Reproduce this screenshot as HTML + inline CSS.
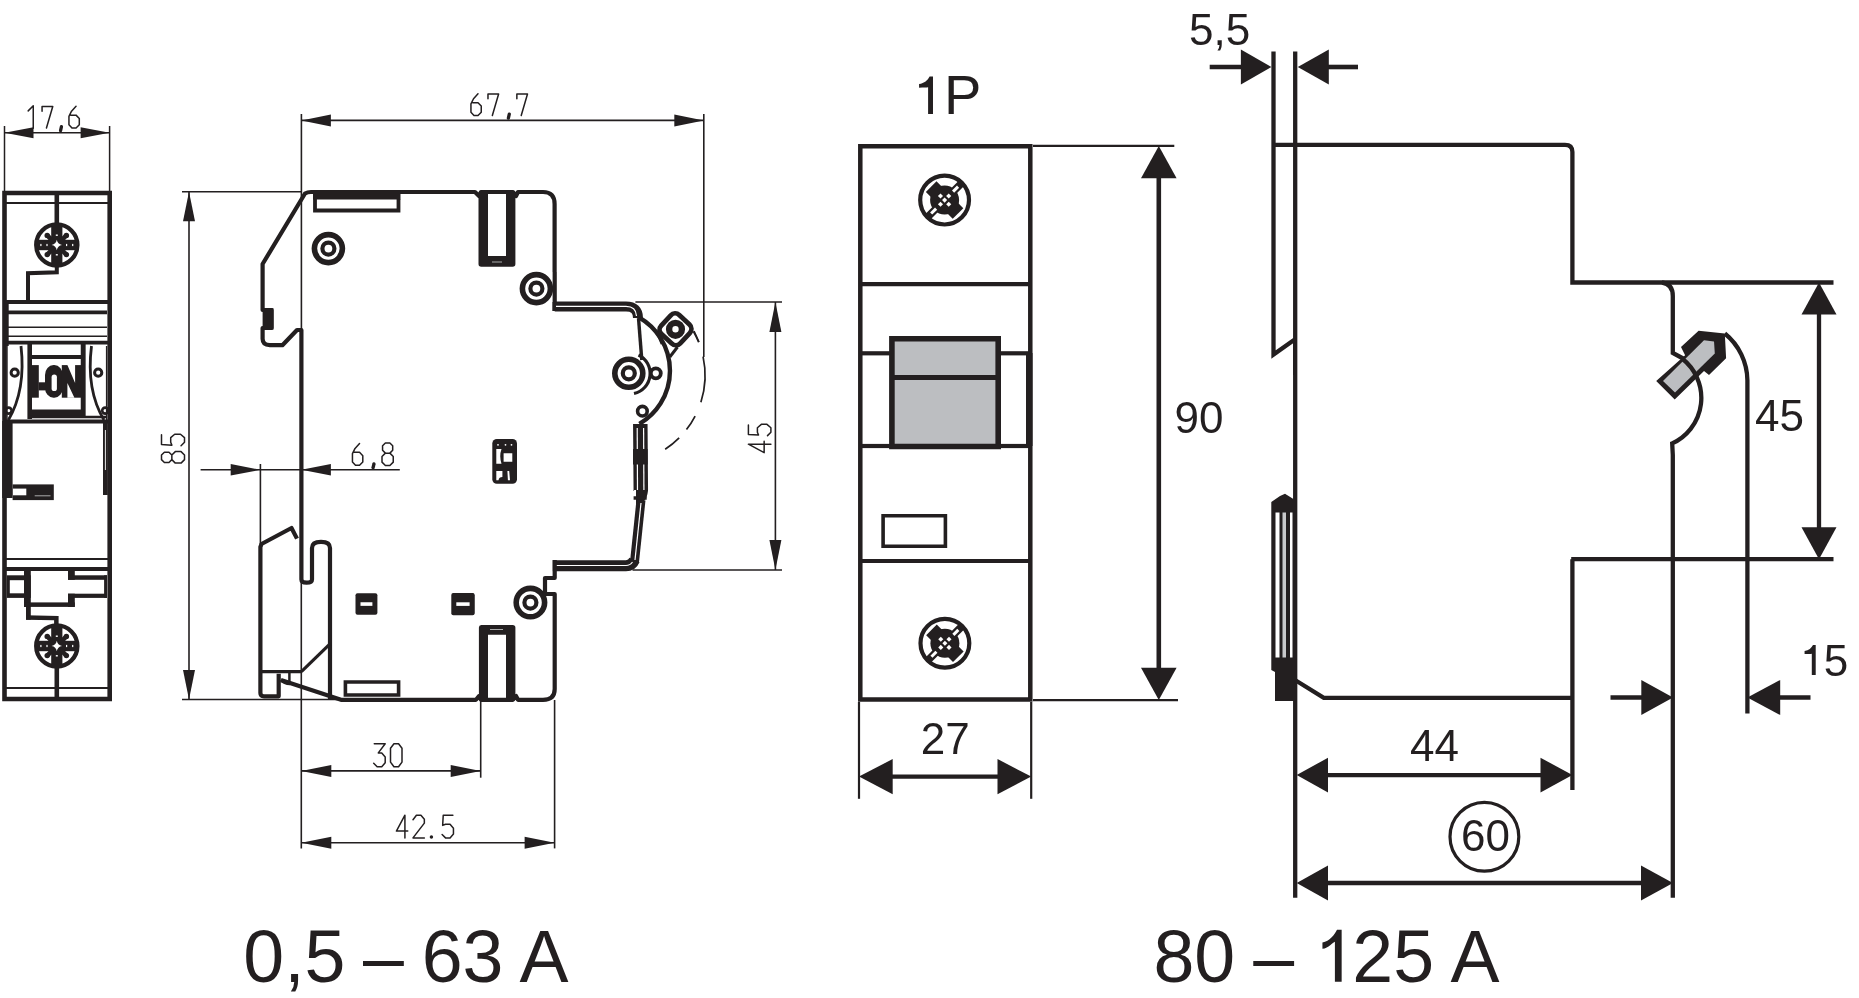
<!DOCTYPE html>
<html><head><meta charset="utf-8"><style>
html,body{margin:0;padding:0;background:#fff;width:1859px;height:998px;overflow:hidden}
svg{display:block;font-family:"Liberation Sans",sans-serif;will-change:transform}
</style></head><body>
<svg width="1859" height="998" viewBox="0 0 1859 998">
<g stroke="#231f20" fill="none">
<line x1="4.5" y1="126" x2="4.5" y2="191" stroke-width="1.5" stroke-linecap="butt"/>
<line x1="109.6" y1="126" x2="109.6" y2="191" stroke-width="1.5" stroke-linecap="butt"/>
<line x1="4.5" y1="132.8" x2="109.6" y2="132.8" stroke-width="1.5" stroke-linecap="butt"/>
<polygon points="4.50,132.80 33.50,127.30 33.50,138.30" fill="#231f20" stroke="none"/>
<polygon points="109.60,132.80 80.60,127.30 80.60,138.30" fill="#231f20" stroke="none"/>
<g transform="translate(26.5,105.8)" fill="none" stroke-width="1.5" stroke-linejoin="round" stroke-linecap="round"><path transform="translate(0.00,0) scale(1.1250)" d="M1.5,4.5 L6,0 L6,20" vector-effect="non-scaling-stroke"/><path transform="translate(15.00,0) scale(1.1250)" d="M0.5,4.8 L0.5,0.6 L10,0.6 L4.4,19.8" vector-effect="non-scaling-stroke"/><path d="M34.95,20.93 L34.05,24.75" stroke-width="3.3000000000000003" stroke-linecap="round"/><path transform="translate(42.00,0) scale(1.1250)" d="M6.7,0.4 L2.7,4.8 L0.4,9.4 L0.4,16.9 L3.1,19.8 L6.7,19.8 L9.6,16.9 L9.6,11.3 L6.7,8.3 L2,8.3" vector-effect="non-scaling-stroke"/></g>
<path d="M4.5,193 L109.7,193 L109.7,699 L4.5,699 Z" stroke-width="4.6" fill="none" stroke-linejoin="miter" stroke-linecap="butt"/>
<line x1="6" y1="203" x2="108" y2="203" stroke-width="1.8" stroke-linecap="butt"/>
<line x1="56.8" y1="193" x2="56.8" y2="224" stroke-width="4.6" stroke-linecap="butt"/>
<circle cx="56.8" cy="245" r="20.6" stroke-width="4.3" fill="none" stroke="#231f20"/>
<g transform="translate(56.8,245)" fill="#231f20" stroke="none"><rect x="-5.6" y="-21" width="11.2" height="42"/><rect x="-21" y="-5.2" width="42" height="10.4"/><circle r="9.8"/><path d="M-9.6,-9.6 L9.6,9.6 M9.6,-9.6 L-9.6,9.6" stroke="#231f20" stroke-width="4.6"/><circle cx="-9.6" cy="-9.6" r="2.7"/><circle cx="9.6" cy="-9.6" r="2.7"/><circle cx="-9.6" cy="9.6" r="2.7"/><circle cx="9.6" cy="9.6" r="2.7"/></g>
<g transform="translate(56.8,245)" fill="#fff" stroke="none"><path d="M0,-5.2 Q0.8,-0.8 5.2,0 Q0.8,0.8 0,5.2 Q-0.8,0.8 -5.2,0 Q-0.8,-0.8 0,-5.2 Z"/><rect x="-1" y="-10.5" width="2" height="1.4"/><rect x="-1" y="9.1" width="2" height="1.4"/><rect x="-10.4" y="-1.1" width="1.2" height="2.2"/><rect x="9.2" y="-1.1" width="1.2" height="2.2"/><rect x="-16.5" y="-1.1" width="1.2" height="2.2"/><rect x="15.3" y="-1.1" width="1.2" height="2.2"/></g>
<path d="M56.8,266 L56.8,272.3 L28,273.2 L28,302" stroke-width="4" fill="none" stroke-linejoin="miter" stroke-linecap="butt"/>
<line x1="5" y1="302" x2="108" y2="302" stroke-width="3.8" stroke-linecap="butt"/>
<line x1="8" y1="312.4" x2="107" y2="312.4" stroke-width="3.6" stroke-linecap="butt"/>
<line x1="8" y1="327.2" x2="107" y2="327.2" stroke-width="1.6" stroke-linecap="butt"/>
<line x1="8" y1="336.3" x2="107" y2="336.3" stroke-width="1.6" stroke-linecap="butt"/>
<line x1="6" y1="342.6" x2="108" y2="342.6" stroke-width="3.8" stroke-linecap="butt"/>
<line x1="29.7" y1="342" x2="29.7" y2="419" stroke-width="4.6" stroke-linecap="butt"/>
<line x1="83.2" y1="342" x2="83.2" y2="416" stroke-width="4.9" stroke-linecap="butt"/>
<line x1="30" y1="357" x2="82" y2="357" stroke-width="4.2" stroke-linecap="butt"/>
<line x1="30" y1="412.8" x2="85" y2="412.8" stroke-width="6.4" stroke-linecap="butt"/>
<line x1="30" y1="417" x2="107" y2="417" stroke-width="2.6" stroke-linecap="butt"/>
<line x1="6" y1="421.5" x2="108" y2="421.5" stroke-width="4" stroke-linecap="butt"/>
<rect x="32" y="365.1" width="6.799999999999997" height="32.599999999999966" fill="#231f20" stroke="none"/>
<rect x="38.6" y="382.3" width="7.799999999999997" height="8.099999999999966" fill="#231f20" stroke="none"/>
<rect x="45" y="365.1" width="17.8" height="32.6" rx="8.5" ry="10" fill="#231f20" stroke="none"/>
<rect x="51.6" y="374.6" width="5.3" height="16.4" rx="2.6" fill="#fff" stroke="none"/>
<rect x="61.8" y="365.1" width="19.200000000000003" height="32.599999999999966" fill="#231f20" stroke="none"/>
<path d="M67.4,365.1 L75.1,365.1 L75.1,383 Z M67.4,383 L67.4,397.7 L74.4,397.7 Z" fill="#fff" stroke="none"/>
<path d="M21,346 Q26,390 8.4,420" stroke-width="2.8" fill="none" stroke-linejoin="miter" stroke-linecap="butt"/>
<path d="M91.5,346 Q86,390 104,420" stroke-width="2.8" fill="none" stroke-linejoin="miter" stroke-linecap="butt"/>
<circle cx="14.7" cy="372.7" r="3.6" stroke-width="3.0" fill="none" stroke="#231f20"/>
<circle cx="98.2" cy="372.7" r="3.6" stroke-width="3.0" fill="none" stroke="#231f20"/>
<circle cx="8.6" cy="410.6" r="3.0" stroke-width="2.6" fill="none" stroke="#231f20"/>
<circle cx="105.2" cy="410.6" r="3.0" stroke-width="2.6" fill="none" stroke="#231f20"/>
<line x1="7" y1="346" x2="7" y2="420" stroke-width="1.4" stroke-linecap="butt"/>
<line x1="106.6" y1="346" x2="106.6" y2="420" stroke-width="1.4" stroke-linecap="butt"/>
<rect x="2.2" y="421" width="10.399999999999999" height="77" fill="#231f20" stroke="none"/>
<rect x="12.6" y="484.4" width="41.199999999999996" height="15.700000000000045" fill="#231f20" stroke="none"/>
<rect x="13" y="488.6" width="13.3" height="6.699999999999989" fill="#fff" stroke="none"/>
<line x1="34.7" y1="495.8" x2="50.5" y2="495.8" stroke="#aaa" stroke-width="1"/>
<rect x="103" y="421" width="4.799999999999997" height="74" fill="#231f20" stroke="none"/>
<line x1="105.4" y1="430" x2="105.4" y2="470" stroke="#fff" stroke-width="0.9"/>
<rect x="4.5" y="300" width="4.199999999999999" height="46" fill="#231f20" stroke="none"/>
<line x1="6" y1="559.1" x2="108" y2="559.1" stroke-width="2" stroke-linecap="butt"/>
<line x1="5" y1="569" x2="108" y2="569" stroke-width="4.2" stroke-linecap="butt"/>
<rect x="6.8" y="575.3" width="24.0" height="22.600000000000023" fill="#231f20" stroke="none"/>
<rect x="9.8" y="580.2" width="16.2" height="13.099999999999909" fill="#fff" stroke="none"/>
<rect x="24" y="571" width="6.800000000000001" height="35.89999999999998" fill="#231f20" stroke="none"/>
<rect x="26" y="606" width="4.800000000000001" height="13.700000000000045" fill="#231f20" stroke="none"/>
<rect x="24" y="602.4" width="50.8" height="4.5" fill="#231f20" stroke="none"/>
<rect x="68" y="571" width="6.799999999999997" height="8.799999999999955" fill="#231f20" stroke="none"/>
<rect x="68" y="593.7" width="6.799999999999997" height="13.199999999999932" fill="#231f20" stroke="none"/>
<rect x="68" y="575.3" width="39" height="4.5" fill="#231f20" stroke="none"/>
<rect x="68" y="593.7" width="39" height="4.199999999999932" fill="#231f20" stroke="none"/>
<rect x="104.1" y="575.3" width="2.9000000000000057" height="22.600000000000023" fill="#231f20" stroke="none"/>
<path d="M26,615.2 L58.6,616 L58.6,626 L54.1,626 L54.1,620.3 L26,619.7 Z" fill="#231f20" stroke="none"/>
<circle cx="56.8" cy="646" r="20.6" stroke-width="4.3" fill="none" stroke="#231f20"/>
<g transform="translate(56.8,646)" fill="#231f20" stroke="none"><rect x="-5.6" y="-21" width="11.2" height="42"/><rect x="-21" y="-5.2" width="42" height="10.4"/><circle r="9.8"/><path d="M-9.6,-9.6 L9.6,9.6 M9.6,-9.6 L-9.6,9.6" stroke="#231f20" stroke-width="4.6"/><circle cx="-9.6" cy="-9.6" r="2.7"/><circle cx="9.6" cy="-9.6" r="2.7"/><circle cx="-9.6" cy="9.6" r="2.7"/><circle cx="9.6" cy="9.6" r="2.7"/></g>
<g transform="translate(56.8,646)" fill="#fff" stroke="none"><path d="M0,-5.2 Q0.8,-0.8 5.2,0 Q0.8,0.8 0,5.2 Q-0.8,0.8 -5.2,0 Q-0.8,-0.8 0,-5.2 Z"/><rect x="-1" y="-10.5" width="2" height="1.4"/><rect x="-1" y="9.1" width="2" height="1.4"/><rect x="-10.4" y="-1.1" width="1.2" height="2.2"/><rect x="9.2" y="-1.1" width="1.2" height="2.2"/><rect x="-16.5" y="-1.1" width="1.2" height="2.2"/><rect x="15.3" y="-1.1" width="1.2" height="2.2"/></g>
<line x1="56.8" y1="668" x2="56.8" y2="699" stroke-width="4.6" stroke-linecap="butt"/>
<line x1="6" y1="688" x2="108" y2="688" stroke-width="1.8" stroke-linecap="butt"/>
<line x1="301.4" y1="114" x2="301.4" y2="330" stroke-width="1.6" stroke-linecap="butt"/>
<line x1="703.8" y1="114" x2="703.8" y2="357" stroke-width="1.6" stroke-linecap="butt"/>
<line x1="301.4" y1="120.4" x2="703.8" y2="120.4" stroke-width="1.6" stroke-linecap="butt"/>
<polygon points="301.40,120.40 330.90,114.40 330.90,126.40" fill="#231f20" stroke="none"/>
<polygon points="703.80,120.40 674.30,114.40 674.30,126.40" fill="#231f20" stroke="none"/>
<g transform="translate(470.5,93.4)" fill="none" stroke-width="1.5" stroke-linejoin="round" stroke-linecap="round"><path transform="translate(0.00,0) scale(1.1200)" d="M6.7,0.4 L2.7,4.8 L0.4,9.4 L0.4,16.9 L3.1,19.8 L6.7,19.8 L9.6,16.9 L9.6,11.3 L6.7,8.3 L2,8.3" vector-effect="non-scaling-stroke"/><path transform="translate(16.92,0) scale(1.1200)" d="M0.5,4.8 L0.5,0.6 L10,0.6 L4.4,19.8" vector-effect="non-scaling-stroke"/><path d="M38.78,20.83 L37.88,24.64" stroke-width="3.3000000000000003" stroke-linecap="round"/><path transform="translate(45.80,0) scale(1.1200)" d="M0.5,4.8 L0.5,0.6 L10,0.6 L4.4,19.8" vector-effect="non-scaling-stroke"/></g>
<line x1="182" y1="191.7" x2="302" y2="191.7" stroke-width="1.6" stroke-linecap="butt"/>
<line x1="189" y1="191.7" x2="189" y2="699.5" stroke-width="1.6" stroke-linecap="butt"/>
<polygon points="189.00,191.70 183.00,221.20 195.00,221.20" fill="#231f20" stroke="none"/>
<polygon points="189.00,699.50 183.00,670.00 195.00,670.00" fill="#231f20" stroke="none"/>
<g transform="translate(161.5,463.1) rotate(-90)" fill="none" stroke-width="1.5" stroke-linejoin="round" stroke-linecap="round"><path transform="translate(0.00,0) scale(1.1500)" d="M3,0 L7,0 L9.5,2.5 L9.5,6.5 L7,9 L3,9 L0.5,6.5 L0.5,2.5 Z M3,9 L7,9 L10,12 L10,17 L7,20 L3,20 L0,17 L0,12 Z" vector-effect="non-scaling-stroke"/><path transform="translate(17.38,0) scale(1.1500)" d="M9.5,0 L1,0 L0.5,9 L3,8 L7,8 L10,11.5 L10,16.5 L7,20 L3,20 L0,17" vector-effect="non-scaling-stroke"/></g>
<line x1="182" y1="699.5" x2="340" y2="699.5" stroke-width="1.6" stroke-linecap="butt"/>
<line x1="260.4" y1="464" x2="260.4" y2="544" stroke-width="1.6" stroke-linecap="butt"/>
<line x1="200.6" y1="469.8" x2="399.8" y2="469.8" stroke-width="1.6" stroke-linecap="butt"/>
<polygon points="260.20,469.80 230.70,464.00 230.70,475.60" fill="#231f20" stroke="none"/>
<polygon points="301.40,469.80 330.90,464.00 330.90,475.60" fill="#231f20" stroke="none"/>
<g transform="translate(352,443)" fill="none" stroke-width="1.5" stroke-linejoin="round" stroke-linecap="round"><path transform="translate(0.00,0) scale(1.1250)" d="M6.7,0.4 L2.7,4.8 L0.4,9.4 L0.4,16.9 L3.1,19.8 L6.7,19.8 L9.6,16.9 L9.6,11.3 L6.7,8.3 L2,8.3" vector-effect="non-scaling-stroke"/><path d="M21.95,20.93 L21.05,24.75" stroke-width="3.3000000000000003" stroke-linecap="round"/><path transform="translate(30.00,0) scale(1.1250)" d="M3,0 L7,0 L9.5,2.5 L9.5,6.5 L7,9 L3,9 L0.5,6.5 L0.5,2.5 Z M3,9 L7,9 L10,12 L10,17 L7,20 L3,20 L0,17 L0,12 Z" vector-effect="non-scaling-stroke"/></g>
<line x1="635.4" y1="302" x2="782" y2="302" stroke-width="1.6" stroke-linecap="butt"/>
<line x1="632.5" y1="570" x2="782" y2="570" stroke-width="1.6" stroke-linecap="butt"/>
<line x1="775.4" y1="302" x2="775.4" y2="570" stroke-width="1.6" stroke-linecap="butt"/>
<polygon points="775.40,302.00 769.40,332.00 781.40,332.00" fill="#231f20" stroke="none"/>
<polygon points="775.40,570.00 769.40,540.00 781.40,540.00" fill="#231f20" stroke="none"/>
<g transform="translate(748.4,452.6) rotate(-90)" fill="none" stroke-width="1.5" stroke-linejoin="round" stroke-linecap="round"><path transform="translate(0.00,0) scale(1.1250)" d="M7.5,20 L7.5,0 L0,14 L10,14" vector-effect="non-scaling-stroke"/><path transform="translate(17.00,0) scale(1.1250)" d="M9.5,0 L1,0 L0.5,9 L3,8 L7,8 L10,11.5 L10,16.5 L7,20 L3,20 L0,17" vector-effect="non-scaling-stroke"/></g>
<line x1="301.3" y1="538" x2="301.3" y2="848.4" stroke-width="1.6" stroke-linecap="butt"/>
<line x1="480.7" y1="700" x2="480.7" y2="777.7" stroke-width="1.6" stroke-linecap="butt"/>
<line x1="554.6" y1="700" x2="554.6" y2="848.4" stroke-width="1.6" stroke-linecap="butt"/>
<line x1="301.3" y1="770.9" x2="480.7" y2="770.9" stroke-width="1.6" stroke-linecap="butt"/>
<polygon points="301.30,770.90 331.30,764.90 331.30,776.90" fill="#231f20" stroke="none"/>
<polygon points="480.70,770.90 450.70,764.90 450.70,776.90" fill="#231f20" stroke="none"/>
<g transform="translate(373.7,743.7)" fill="none" stroke-width="1.5" stroke-linejoin="round" stroke-linecap="round"><path transform="translate(0.00,0) scale(1.1500)" d="M0.5,0 L10,0 L4,8 L7,8 L10,11.5 L10,16.5 L7,20 L3,20 L0,17" vector-effect="non-scaling-stroke"/><path transform="translate(16.80,0) scale(1.1500)" d="M3,0 L7,0 L10,4 L10,16 L7,20 L3,20 L0,16 L0,4 Z" vector-effect="non-scaling-stroke"/></g>
<line x1="301.3" y1="842.8" x2="554.6" y2="842.8" stroke-width="1.6" stroke-linecap="butt"/>
<polygon points="301.30,842.80 331.30,836.80 331.30,848.80" fill="#231f20" stroke="none"/>
<polygon points="554.60,842.80 524.60,836.80 524.60,848.80" fill="#231f20" stroke="none"/>
<g transform="translate(396.4,815.2)" fill="none" stroke-width="1.5" stroke-linejoin="round" stroke-linecap="round"><path transform="translate(0.00,0) scale(1.1350)" d="M7.5,20 L7.5,0 L0,14 L10,14" vector-effect="non-scaling-stroke"/><path transform="translate(16.60,0) scale(1.1350)" d="M0,4 L3,0 L7,0 L10,3.5 L10,7 L0,20 L10,20" vector-effect="non-scaling-stroke"/><circle cx="35.02" cy="21.79" r="1.7249999999999999" fill="#231f20" stroke="none"/><path transform="translate(45.70,0) scale(1.1350)" d="M9.5,0 L1,0 L0.5,9 L3,8 L7,8 L10,11.5 L10,16.5 L7,20 L3,20 L0,17" vector-effect="non-scaling-stroke"/></g>
<path d="M693.5,331.5 A88.5,88.5 0 0 1 657,454" fill="none" stroke-width="1.7" stroke-dasharray="12,15,46,15,16,11,18,40"/>
<path d="M301.4,538 L301.4,330 L297,330 L282.4,345.2 L269.8,345.2 Q262.6,345 262.6,338.8 L262.6,328 L271.6,328 L271.6,310 L262.6,310 L262.6,264 L305,193.5 Q307.5,192 311,192 L475,192 L479,196 L481,192 L513,192 L516,196 L518,192 L543,192 Q554.6,192 554.6,204 L554.6,272" stroke-width="4.2" fill="none" stroke-linejoin="round" stroke-linecap="butt"/>
<rect x="262.6" y="308.2" width="10.799999999999955" height="21.400000000000034" fill="#231f20" stroke="none"/>
<rect x="313" y="190" width="87.5" height="9.5" fill="#231f20" stroke="none"/>
<path d="M315,199 L315,210.5 L398.5,210.5 L398.5,199" stroke-width="3.8" fill="none" stroke-linejoin="miter" stroke-linecap="butt"/>
<path d="M478.5,194 L488,194 L488,256 L506,256 L506,194 L515.4,194 L515.4,264 Q515.4,266.8 512.6,266.8 L481.3,266.8 Q478.5,266.8 478.5,264 Z" fill="#231f20" stroke="none"/>
<line x1="492" y1="262" x2="502" y2="262" stroke-width="0.9" stroke-linecap="butt"/>
<line x1="492" y1="262" x2="502" y2="262" stroke="#bbb" stroke-width="0.9"/>
<circle cx="328.4" cy="248.6" r="14.0" stroke-width="5.6" fill="none" stroke="#231f20"/>
<circle cx="328.4" cy="248.6" r="6.0" stroke-width="4.2" fill="none" stroke="#231f20"/>
<circle cx="536.4" cy="288.6" r="14.0" stroke-width="5.6" fill="none" stroke="#231f20"/>
<circle cx="536.4" cy="288.6" r="6.0" stroke-width="4.2" fill="none" stroke="#231f20"/>
<circle cx="628.8" cy="373.3" r="14.0" stroke-width="5.6" fill="none" stroke="#231f20"/>
<circle cx="628.8" cy="373.3" r="6.0" stroke-width="4.2" fill="none" stroke="#231f20"/>
<path d="M638.5,355 A20.5,20.5 0 0 1 634,393.5" stroke-width="3.2" fill="none" stroke-linejoin="miter" stroke-linecap="butt"/>
<circle cx="530.4" cy="602.6" r="14.2" stroke-width="5.6" fill="none" stroke="#231f20"/>
<circle cx="530.4" cy="602.6" r="6.0" stroke-width="4.2" fill="none" stroke="#231f20"/>
<path d="M554.6,302 L554.6,311" stroke-width="4.2" fill="none" stroke-linejoin="miter" stroke-linecap="butt"/>
<path d="M554.7,272 L554.7,311" stroke-width="4.2" fill="none" stroke-linejoin="miter" stroke-linecap="butt"/>
<path d="M554.7,306.4 L626,306.4 Q638,306.4 638,318" stroke-width="10" fill="none" stroke-linejoin="miter" stroke-linecap="butt"/>
<path d="M556,306.4 L626,306.4 Q636,306.4 636.5,316" stroke-width="1.2" fill="none" stroke-linejoin="miter" stroke-linecap="butt" stroke="#fff"/>
<line x1="638.5" y1="318" x2="641.8" y2="360" stroke-width="3.4" stroke-linecap="butt"/>
<path d="M639.4,317.6 A61.4,61.4 0 0 1 639.4,423.8" stroke-width="4.4" fill="none" stroke-linejoin="miter" stroke-linecap="butt"/>
<g transform="translate(675.5,329.3) rotate(43)"><rect x="-13" y="-13" width="26" height="26" rx="6" fill="#fff" stroke-width="4.8"/></g>
<circle cx="675.5" cy="329.3" r="6.4" stroke-width="6.4" fill="none" stroke="#231f20"/>
<line x1="677.5" y1="347" x2="669.8" y2="357" stroke-width="3" stroke-linecap="butt"/>
<line x1="657" y1="332" x2="662" y2="344" stroke-width="2.8" stroke-linecap="butt"/>
<line x1="694" y1="331" x2="699" y2="342" stroke-width="1.6" stroke-linecap="butt"/>
<circle cx="655.8" cy="373.3" r="5.0" stroke-width="3.8" fill="none" stroke="#231f20"/>
<circle cx="642.4" cy="411.2" r="4.8" stroke-width="3.6" fill="none" stroke="#231f20"/>
<path d="M640.3,424 L640.8,490 Q640,497 636,497" stroke-width="14.5" fill="none" stroke-linejoin="miter" stroke-linecap="butt"/>
<path d="M637.2,428 L637.5,490" stroke-width="1.2" fill="none" stroke-linejoin="miter" stroke-linecap="butt" stroke="#fff"/>
<path d="M643.6,428 L643.9,490" stroke-width="1.2" fill="none" stroke-linejoin="miter" stroke-linecap="butt" stroke="#fff"/>
<rect x="633" y="449" width="14.600000000000023" height="15.5" fill="#231f20" stroke="none"/>
<line x1="633.6" y1="498" x2="646.7" y2="498" stroke-width="3.5" stroke-linecap="butt"/>
<path d="M641,500 L634.5,562" stroke-width="9" fill="none" stroke-linejoin="miter" stroke-linecap="butt"/>
<path d="M641,503 L635,560" stroke-width="1.2" fill="none" stroke-linejoin="miter" stroke-linecap="butt" stroke="#fff"/>
<path d="M634.5,560 Q632,565.7 626,565.7 L552.8,565.7" stroke-width="11" fill="none" stroke-linejoin="miter" stroke-linecap="butt"/>
<path d="M632.5,562 Q630,565.5 626,565.5 L556,565.5" stroke-width="1.2" fill="none" stroke-linejoin="miter" stroke-linecap="butt" stroke="#fff"/>
<path d="M554.7,560 L554.7,578 L545,578 L545,594 L554.7,594 L554.7,689 Q554.7,699.8 543,699.8 L518,699.8 L516,696 L513,699.8 L481,699.8 L479,696 L476,699.8 L341,699.8 L280.9,680" stroke-width="4.2" fill="none" stroke-linejoin="round" stroke-linecap="butt"/>
<path d="M478.9,699 L488,699 L488,634.7 L506,634.7 L506,699 L515.4,699 L515.4,627.5 Q515.4,625 512.6,625 L481.3,625 Q478.9,625 478.9,627.5 Z" fill="#231f20" stroke="none"/>
<line x1="490" y1="629.5" x2="503" y2="629.5" stroke="#bbb" stroke-width="0.9"/>
<path d="M345.4,682 L398.6,682 L398.6,695 L345.4,695 Z" stroke-width="3.6" fill="none" stroke-linejoin="miter" stroke-linecap="butt"/>
<rect x="355.5" y="593.3" width="21.899999999999977" height="21.5" rx="2" fill="#231f20" stroke="none"/>
<rect x="360.5" y="602.25" width="11.899999999999977" height="3.599999999999909" fill="#fff" stroke="none"/>
<rect x="452" y="593.3" width="22.399999999999977" height="21.5" rx="2" fill="#231f20" stroke="none"/>
<rect x="457" y="602.25" width="12.399999999999977" height="3.599999999999909" fill="#fff" stroke="none"/>
<rect x="451.3" y="592.9" width="23.30000000000001" height="22.399999999999977" rx="2" fill="#231f20" stroke="none"/>
<rect x="456.3" y="602.3" width="13.300000000000011" height="3.599999999999909" fill="#fff" stroke="none"/>
<rect x="492.3" y="439" width="24.7" height="44.7" rx="4.5" fill="#231f20" stroke="none"/>
<path d="M496.3,449 L501.5,449 Q499,456 501.5,463.7 L496.3,463.7 Z M503.6,453.2 L512.3,453.2 L512.3,461.7 L503.6,461.7 Z M496.3,471 L502.4,471 L502.4,477 Q499,477 498.5,480.3 L496.3,480.3 Z M507.4,471 L509.2,471 L510,480.3 L507.9,480.3 Z" fill="#fff" stroke="none"/>
<circle cx="498" cy="444.8" r="0.9" stroke-width="0" fill="#fff" stroke="none"/>
<circle cx="505.5" cy="444.8" r="0.9" stroke-width="0" fill="#fff" stroke="none"/>
<circle cx="511.5" cy="444.8" r="0.9" stroke-width="0" fill="#fff" stroke="none"/>
<path d="M301.4,538 L301.4,579.4 Q301.4,582.6 306.6,582.6 Q312,582.6 312,579.4 L312,548 Q312,541.8 321,541.8 Q330,541.8 330,548 L330,700" stroke-width="4.2" fill="none" stroke-linejoin="round" stroke-linecap="butt"/>
<path d="M297,538.6 L291.5,528 L261.5,544 L260.4,547 L260.4,693 Q260.4,696.3 264,696.3 L278.7,696.3 L278.7,673.7" stroke-width="4.2" fill="none" stroke-linejoin="round" stroke-linecap="butt"/>
<line x1="260" y1="671.6" x2="301.4" y2="671.6" stroke-width="3.4" stroke-linecap="butt"/>
<line x1="301.4" y1="671.6" x2="330" y2="643.8" stroke-width="3.2" stroke-linecap="butt"/>
<line x1="289.4" y1="672" x2="289.4" y2="682" stroke-width="2.5" stroke-linecap="butt"/>
<path d="M280.9,680 Q284,684 290,684" stroke-width="2.5" fill="none" stroke-linejoin="miter" stroke-linecap="butt"/>
<path d="M928.1,114 L932.99,114 L932.99,76.40 L929.60,76.40 C927.72,80.16 924.34,83.17 919.08,83.92 L919.08,87.68 C923.59,87.30 926.60,87.68 928.1,87.30 Z" fill="#231f20" stroke="none"/>
<text x="944" y="114.1" font-size="56" text-anchor="start" fill="#231f20" stroke="none" >P</text>
<path d="M860.3,146.3 L1030.3,146.3 L1030.3,699.6 L860.3,699.6 Z" stroke-width="4.5" fill="none" stroke-linejoin="miter" stroke-linecap="butt"/>
<line x1="860" y1="284.2" x2="1030" y2="284.2" stroke-width="4.2" stroke-linecap="butt"/>
<line x1="860" y1="353.3" x2="890" y2="353.3" stroke-width="4.2" stroke-linecap="butt"/>
<line x1="1000" y1="353.3" x2="1030" y2="353.3" stroke-width="4.2" stroke-linecap="butt"/>
<line x1="860" y1="446" x2="890" y2="446" stroke-width="4.2" stroke-linecap="butt"/>
<line x1="1000" y1="446" x2="1030" y2="446" stroke-width="4.2" stroke-linecap="butt"/>
<line x1="860" y1="561" x2="1030" y2="561" stroke-width="4.2" stroke-linecap="butt"/>
<rect x="891.9" y="338.7" width="106.30000000000007" height="107.80000000000001" fill="#bcbec1" stroke="none"/>
<path d="M891.9,338.7 L998.2,338.7 L998.2,446.5 L891.9,446.5 Z" stroke-width="5.6" fill="none" stroke-linejoin="miter" stroke-linecap="butt"/>
<line x1="892" y1="377.4" x2="998" y2="377.4" stroke-width="5" stroke-linecap="butt"/>
<path d="M883.1,515.8 L945.4,515.8 L945.4,546.2 L883.1,546.2 Z" stroke-width="3.6" fill="none" stroke-linejoin="miter" stroke-linecap="butt"/>
<rect x="1026" y="353" width="6.5" height="93" fill="#231f20" stroke="none"/>
<circle cx="944.6" cy="200.1" r="24.4" stroke-width="4.2" fill="none" stroke="#231f20"/>
<g transform="translate(944.6,200.1) rotate(45)" fill="#231f20" stroke="none"><circle r="14.5"/><rect x="-3.8" y="-23" width="7.6" height="46"/><rect x="-19" y="-7.5" width="38" height="15"/></g>
<g transform="translate(944.6,200.1) rotate(45)" fill="#fff" stroke="none"><rect x="-1.5" y="-19" width="3" height="7"/><rect x="-1.5" y="12" width="3" height="7"/><rect x="-1.8" y="-1.8" width="3.6" height="3.6"/><rect x="-7.6" y="-1.8" width="3.6" height="3.6"/><rect x="4" y="-1.8" width="3.6" height="3.6"/><rect x="-1.8" y="-7.6" width="3.6" height="3.6"/><rect x="-1.8" y="4" width="3.6" height="3.6"/></g>
<circle cx="944.9" cy="643.3" r="24.4" stroke-width="4.2" fill="none" stroke="#231f20"/>
<g transform="translate(944.9,643.3) rotate(45)" fill="#231f20" stroke="none"><circle r="14.5"/><rect x="-3.8" y="-23" width="7.6" height="46"/><rect x="-19" y="-7.5" width="38" height="15"/></g>
<g transform="translate(944.9,643.3) rotate(45)" fill="#fff" stroke="none"><rect x="-1.5" y="-19" width="3" height="7"/><rect x="-1.5" y="12" width="3" height="7"/><rect x="-1.8" y="-1.8" width="3.6" height="3.6"/><rect x="-7.6" y="-1.8" width="3.6" height="3.6"/><rect x="4" y="-1.8" width="3.6" height="3.6"/><rect x="-1.8" y="-7.6" width="3.6" height="3.6"/><rect x="-1.8" y="4" width="3.6" height="3.6"/></g>
<line x1="1033" y1="145.9" x2="1174.3" y2="145.9" stroke-width="2.4" stroke-linecap="butt"/>
<line x1="1033" y1="700.1" x2="1178" y2="700.1" stroke-width="2.4" stroke-linecap="butt"/>
<line x1="1158.8" y1="175" x2="1158.8" y2="670" stroke-width="4.6" stroke-linecap="butt"/>
<polygon points="1158.80,145.90 1141.00,178.30 1176.60,178.30" fill="#231f20" stroke="none"/>
<polygon points="1158.80,700.10 1141.00,667.70 1176.60,667.70" fill="#231f20" stroke="none"/>
<text x="1174.5" y="433" font-size="44" text-anchor="start" fill="#231f20" stroke="none" >90</text>
<line x1="859" y1="702" x2="859" y2="798.8" stroke-width="2.2" stroke-linecap="butt"/>
<line x1="1031.2" y1="702" x2="1031.2" y2="798.8" stroke-width="2.2" stroke-linecap="butt"/>
<line x1="890" y1="776.6" x2="1000" y2="776.6" stroke-width="4.4" stroke-linecap="butt"/>
<polygon points="859.00,776.60 892.70,759.00 892.70,794.20" fill="#231f20" stroke="none"/>
<polygon points="1031.20,776.60 997.50,759.00 997.50,794.20" fill="#231f20" stroke="none"/>
<text x="920.8" y="754.4" font-size="44" text-anchor="start" fill="#231f20" stroke="none" >27</text>
<text x="1189" y="45.1" font-size="44" text-anchor="start" fill="#231f20" stroke="none" >5,5</text>
<line x1="1209.7" y1="67" x2="1243" y2="67" stroke-width="4.6" stroke-linecap="butt"/>
<polygon points="1271.40,67.00 1240.90,49.40 1240.90,84.60" fill="#231f20" stroke="none"/>
<line x1="1326" y1="67" x2="1358" y2="67" stroke-width="4.6" stroke-linecap="butt"/>
<polygon points="1297.80,67.00 1328.80,49.40 1328.80,84.60" fill="#231f20" stroke="none"/>
<path d="M1273.5,51.6 L1273.5,354.5 L1294,340" stroke-width="4.3" fill="none" stroke-linejoin="miter" stroke-linecap="butt"/>
<line x1="1295.2" y1="51.6" x2="1295.2" y2="897.8" stroke-width="4.3" stroke-linecap="butt"/>
<path d="M1273.5,144.8 L1565,144.8 Q1572.4,144.8 1572.4,152 L1572.4,282.5 L1833.5,282.5" stroke-width="4.3" fill="none" stroke-linejoin="miter" stroke-linecap="butt"/>
<line x1="1294" y1="338" x2="1294" y2="375" stroke-width="2" stroke-linecap="butt"/>
<path d="M1271.3,502 L1280,496 L1285,493.8 L1295,500 L1295,701 L1275,701 L1275,672 L1271.3,670 Z" stroke-width="0" fill="#231f20" stroke-linejoin="miter" stroke-linecap="butt"/>
<rect x="1275.5" y="512.5" width="4.0" height="145.0" fill="#fff" stroke="none"/>
<rect x="1282.5" y="512.5" width="3.5" height="145.0" fill="#c8c9cb" stroke="none"/>
<rect x="1290" y="512.5" width="2.5" height="145.0" fill="#fff" stroke="none"/>
<path d="M1295,680 L1323.8,697.8 L1572.4,697.8" stroke-width="4.3" fill="none" stroke-linejoin="miter" stroke-linecap="butt"/>
<line x1="1572.4" y1="559.2" x2="1572.4" y2="790" stroke-width="4.3" stroke-linecap="butt"/>
<line x1="1571.2" y1="559.2" x2="1833.5" y2="559.2" stroke-width="4.3" stroke-linecap="butt"/>
<path d="M1662,282.5 Q1672.8,284 1672.8,296 L1672.8,352.9 L1684,359" stroke-width="4.3" fill="none" stroke-linejoin="miter" stroke-linecap="butt"/>
<path d="M1656.2,380.9 L1685.1,355.2 L1681,347 L1698.6,330.8 L1724.8,333.5 L1726.1,358.3 L1709,375 L1704,371 L1674.7,399.4 Z" fill="#231f20" stroke="none"/>
<path d="M1663,381 L1675,392.6 L1714.8,353.4 L1714,341.6 L1704,340.3 Z" fill="#bcbec1" stroke="none"/>
<path d="M1682.4,358.8 A50,50 0 0 1 1672.2,443.4 L1672.8,455 L1672.8,897.8" stroke-width="4.3" fill="none" stroke-linejoin="miter" stroke-linecap="butt"/>
<path d="M1724.8,333.5 A61.2,61.2 0 0 1 1747.4,380.2 L1747.4,713.5" stroke-width="4.3" fill="none" stroke-linejoin="miter" stroke-linecap="butt"/>
<line x1="1819" y1="310" x2="1819" y2="532" stroke-width="4.3" stroke-linecap="butt"/>
<polygon points="1819.00,282.50 1801.50,314.50 1836.50,314.50" fill="#231f20" stroke="none"/>
<polygon points="1819.00,559.20 1801.50,527.20 1836.50,527.20" fill="#231f20" stroke="none"/>
<text x="1755" y="431.3" font-size="44" text-anchor="start" fill="#231f20" stroke="none" >45</text>
<line x1="1610.5" y1="697.5" x2="1645" y2="697.5" stroke-width="4.3" stroke-linecap="butt"/>
<polygon points="1673.00,697.50 1641.30,680.00 1641.30,715.00" fill="#231f20" stroke="none"/>
<line x1="1778" y1="697.5" x2="1810.5" y2="697.5" stroke-width="4.3" stroke-linecap="butt"/>
<polygon points="1747.40,697.50 1780.20,680.00 1780.20,715.00" fill="#231f20" stroke="none"/>
<path d="M1811.8,675.1 L1815.71,675.1 L1815.71,645.00 L1813.00,645.00 C1811.50,648.01 1808.79,650.42 1804.58,651.02 L1804.58,654.03 C1808.19,653.73 1810.60,654.03 1811.8,653.73 Z" fill="#231f20" stroke="none"/>
<text x="1823.8" y="676" font-size="44" text-anchor="start" fill="#231f20" stroke="none" >5</text>
<line x1="1325" y1="775.1" x2="1545" y2="775.1" stroke-width="4.3" stroke-linecap="butt"/>
<polygon points="1296.70,775.10 1328.00,757.70 1328.00,792.50" fill="#231f20" stroke="none"/>
<polygon points="1572.40,775.10 1540.50,757.70 1540.50,792.50" fill="#231f20" stroke="none"/>
<text x="1410" y="760.5" font-size="44" text-anchor="start" fill="#231f20" stroke="none" >44</text>
<line x1="1325" y1="883" x2="1645" y2="883" stroke-width="4.3" stroke-linecap="butt"/>
<polygon points="1296.70,883.00 1328.00,865.60 1328.00,900.40" fill="#231f20" stroke="none"/>
<polygon points="1673.00,883.00 1641.00,865.60 1641.00,900.40" fill="#231f20" stroke="none"/>
<circle cx="1484.4" cy="836.7" r="34.4" stroke-width="3.2" fill="none" stroke="#231f20"/>
<text x="1461" y="851" font-size="44" text-anchor="start" fill="#231f20" stroke="none" >60</text>
<text x="243.3" y="982" font-size="73.5" text-anchor="start" fill="#231f20" stroke="none" >0,5 <tspan dx="-3">–</tspan> <tspan dx="-2.5">63</tspan> <tspan dx="-0.4">A</tspan></text>
<text x="1153.4" y="982" font-size="73.5" text-anchor="start" fill="#231f20" stroke="none" >80 <tspan dx="-2.3">–</tspan></text>
<path d="M1334.9,981.7 L1341.65,981.7 L1341.65,929.80 L1336.98,929.80 C1334.38,934.99 1329.71,941.37 1322.44,942.41 L1322.44,948.80 C1328.67,948.28 1332.82,942.26 1334.9,941.74 Z" fill="#231f20" stroke="none"/>
<text x="1352.3" y="982" font-size="73.5" text-anchor="start" fill="#231f20" stroke="none" >25 A</text>
</g>
</svg>
</body></html>
